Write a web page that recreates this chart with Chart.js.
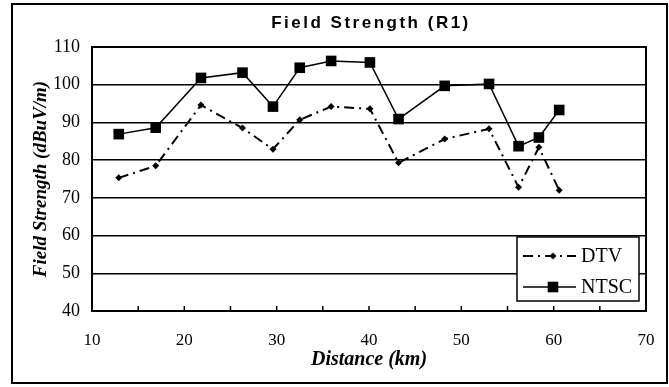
<!DOCTYPE html>
<html>
<head>
<meta charset="utf-8">
<script src="https://cdn.jsdelivr.net/npm/chart.js@4/dist/chart.umd.min.js"></script>
<style>
html,body{margin:0;padding:0;background:#fff;}
#wrap{width:669px;height:387px;position:relative;}
</style>
</head>
<body>
<div id="wrap"><canvas id="c" width="669" height="387"></canvas></div>
<script>
// Data
const distanceKm = [12.9, 16.9, 21.8, 26.3, 29.6, 32.5, 35.9, 40.1, 43.2, 48.2, 53.0, 56.2, 58.4, 60.6];
const dtvValues  = [75.3, 78.5, 94.6, 88.5, 82.9, 90.7, 94.2, 93.6, 79.3, 85.6, 88.3, 72.8, 83.4, 72.0];
const ntscValues = [86.9, 88.6, 101.8, 103.2, 94.2, 104.5, 106.3, 105.9, 90.9, 99.7, 100.2, 83.7, 86.0, 93.3];
const seriesNames = ['DTV', 'NTSC'];
const xTickValues = [10, 20, 30, 40, 50, 60, 70];
const xMinorTicks = [15, 25, 35, 45, 55, 65];
const yTickValues = [40, 50, 60, 70, 80, 90, 100, 110];
const chartTitle = 'Field Strength (R1)';
const xTitle = 'Distance (km)';
const yTitle = 'Field Strength (dBuV/m)';

const toPoints = (xs, ys) => xs.map((x, i) => ({x: x, y: ys[i]}));

const frame = {
  id: 'frame',
  afterDraw(chart) {
    const ctx = chart.ctx;
    const a = chart.chartArea;
    const xs = chart.scales.x;
    ctx.save();
    // outer box
    ctx.strokeStyle = '#000';
    ctx.lineWidth = 2;
    ctx.strokeRect(12, 4, 655, 379);
    // title (drawn with letter spacing like the reference)
    ctx.fillStyle = '#000';
    ctx.font = 'bold 17px "Liberation Sans", Arial, sans-serif';
    try { ctx.letterSpacing = '2.5px'; } catch (e) {}
    ctx.textAlign = 'center';
    ctx.textBaseline = 'alphabetic';
    ctx.fillText(chartTitle, (a.left + a.right) / 2 + 2, 28);
    try { ctx.letterSpacing = '0px'; } catch (e) {}
    // plot border
    ctx.lineWidth = 2;
    ctx.strokeRect(a.left, a.top, a.right - a.left, a.bottom - a.top);
    // tick marks inward at every 5 km
    ctx.lineWidth = 1.5;
    const all = xTickValues.concat(xMinorTicks);
    all.forEach(v => {
      const px = xs.getPixelForValue(v);
      ctx.beginPath();
      ctx.moveTo(px, a.bottom);
      ctx.lineTo(px, a.bottom - 5);
      ctx.stroke();
    });
    // legend box
    const lx = a.right - 129, ly = a.bottom - 74, lw = 122, lh = 64;
    ctx.fillStyle = '#fff';
    ctx.fillRect(lx, ly, lw, lh);
    ctx.strokeStyle = '#000';
    ctx.lineWidth = 1.5;
    ctx.strokeRect(lx, ly, lw, lh);
    chart.data.datasets.forEach((ds, i) => {
      const cy = ly + 19 + i * 31;
      ctx.save();
      ctx.strokeStyle = '#000';
      ctx.lineWidth = ds.borderWidth;
      ctx.setLineDash(ds.borderDash || []);
      ctx.beginPath();
      ctx.moveTo(lx + 6, cy);
      ctx.lineTo(lx + 59, cy);
      ctx.stroke();
      ctx.restore();
      ctx.save();
      ctx.fillStyle = '#000';
      ctx.beginPath();
      const r = ds.pointRadius;
      const mx = lx + 36;
      if (ds.pointStyle === 'rect') {
        const s = Math.SQRT1_2 * r;
        ctx.rect(mx - s, cy - s, 2 * s, 2 * s);
      } else {
        ctx.moveTo(mx, cy - r);
        ctx.lineTo(mx + r, cy);
        ctx.lineTo(mx, cy + r);
        ctx.lineTo(mx - r, cy);
        ctx.closePath();
      }
      ctx.fill();
      ctx.restore();
      ctx.fillStyle = '#000';
      ctx.font = '20px "Liberation Serif", "Times New Roman", serif';
      ctx.textBaseline = 'middle';
      ctx.textAlign = 'left';
      ctx.fillText(ds.label, lx + 64, cy + 1);
    });
    ctx.restore();
  }
};

new Chart(document.getElementById('c'), {
  type: 'line',
  data: {
    datasets: [
      {
        label: seriesNames[0],
        data: toPoints(distanceKm, dtvValues),
        borderColor: '#000',
        backgroundColor: '#000',
        borderWidth: 2,
        borderDash: [10, 5, 2, 5],
        pointStyle: 'rectRot',
        pointRadius: 3.5,
        pointBorderWidth: 0,
        tension: 0,
        fill: false
      },
      {
        label: seriesNames[1],
        data: toPoints(distanceKm, ntscValues),
        borderColor: '#000',
        backgroundColor: '#000',
        borderWidth: 1.5,
        pointStyle: 'rect',
        pointRadius: 7.5,
        pointBorderWidth: 0,
        tension: 0,
        fill: false
      }
    ]
  },
  options: {
    responsive: false,
    animation: false,
    devicePixelRatio: 1,
    layout: {padding: {left: 0, right: 23, top: 47, bottom: 0}},
    plugins: {
      legend: {display: false},
      tooltip: {enabled: false},
      title: {display: false}
    },
    scales: {
      x: {
        type: 'linear',
        min: 10,
        max: 70,
        afterFit(s) { s.height = 76; s.paddingLeft = 0; s.paddingRight = 0; },
        afterBuildTicks(s) { s.ticks = xTickValues.map(v => ({value: v})); },
        grid: {display: false, drawTicks: false},
        border: {display: true, color: '#000', width: 2},
        ticks: {
          color: '#000',
          padding: 19,
          maxRotation: 0,
          font: {family: '"Liberation Serif", "Times New Roman", serif', size: 17}
        },
        title: {
          display: true,
          text: xTitle,
          color: '#000',
          font: {family: '"Liberation Serif", "Times New Roman", serif', size: 20, weight: 'bold', style: 'italic', lineHeight: 1.2},
          padding: {top: 0, bottom: 15}
        }
      },
      y: {
        type: 'linear',
        min: 40,
        max: 110,
        afterFit(s) { s.width = 92; },
        afterBuildTicks(s) { s.ticks = yTickValues.map(v => ({value: v})); },
        grid: {color: '#000', lineWidth: 1.5, drawTicks: false},
        border: {display: true, color: '#000', width: 2},
        ticks: {
          color: '#000',
          padding: 12,
          font: {family: '"Liberation Serif", "Times New Roman", serif', size: 18}
        },
        title: {
          display: true,
          text: yTitle,
          color: '#000',
          font: {family: '"Liberation Serif", "Times New Roman", serif', size: 19, weight: 'bold', style: 'italic', lineHeight: 1.2},
          padding: {top: 30, bottom: 0}
        }
      }
    }
  },
  plugins: [frame]
});
</script>
</body>
</html>
